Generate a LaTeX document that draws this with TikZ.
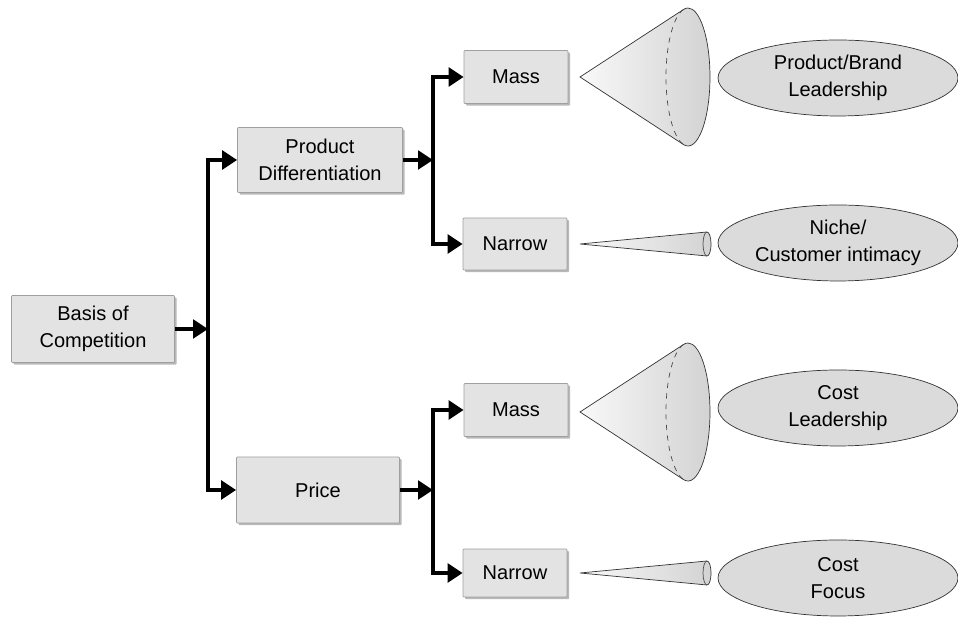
\documentclass[tikz,border=0pt]{standalone}
\usepackage{fontspec}
\setmainfont{Liberation Sans}
\usepackage{tikz}
\usetikzlibrary{arrows.meta,shapes.geometric,shadows}
\colorlet{boxgray}{gray!22}
\colorlet{ovalgray}{gray!28}

\tikzset{
  label font/.style={font=\fontsize{11.4}{15.3}\selectfont, align=center},
  stage/.style={label font, draw=gray!75, fill=boxgray, thin,
    drop shadow={shadow xshift=1.2pt, shadow yshift=-1.2pt, fill=gray!55, opacity=1},
    inner sep=0pt, rounded corners=0.5pt},
  outcome/.style={label font, ellipse, draw=black!80, fill=ovalgray, thin,
    minimum width=4.8cm, minimum height=1.52cm, inner sep=0pt},
  flow/.style={line width=2.8pt, -{Triangle[length=8.5pt,width=10.5pt]}},
  cone/.style={draw=black!80, thin, left color=gray!5, right color=gray!35},
}

\begin{document}
\begin{tikzpicture}[x=0.02cm, y=0.02cm]
  \useasboundingbox (0,0) rectangle (958,618);

  % boxes
  \node[stage, minimum width=3.26cm, minimum height=1.34cm] (basis) at (93,289) {Basis of\\Competition};
  \node[stage, minimum width=3.3cm, minimum height=1.3cm] (prodiff) at (320,458) {Product\\Differentiation};
  \node[stage, minimum width=3.26cm, minimum height=1.32cm] (price) at (318,128) {Price};
  \node[stage, minimum width=2.08cm, minimum height=1.06cm] (massA) at (516,541) {Mass};
  \node[stage, minimum width=2.08cm, minimum height=1.04cm] (narrowA) at (515,374) {Narrow};
  \node[stage, minimum width=2.08cm, minimum height=1.06cm] (massB) at (516,208) {Mass};
  \node[stage, minimum width=2.08cm, minimum height=0.96cm] (narrowB) at (515,45) {Narrow};

  % outcomes
  \node[outcome] (brand) at (838,540) {Product/Brand\\Leadership};
  \node[outcome] (niche) at (838,375) {Niche/\\Customer intimacy};
  \node[outcome] (costlead) at (838,210) {Cost\\Leadership};
  \node[outcome] (costfocus) at (838,40) {Cost\\Focus};

  % branch points
  \coordinate (forkA) at (208,289);
  \coordinate (forkB) at (433,458);
  \coordinate (forkC) at (433,128);

  \draw[flow] (basis) -- (forkA);
  \draw[flow] (forkA) |- (prodiff);
  \draw[flow] (forkA) |- (price);
  \draw[flow] (prodiff) -- (forkB);
  \draw[flow] (forkB) |- (massA);
  \draw[flow] (forkB) |- (narrowA);
  \draw[flow] (price) -- (forkC);
  \draw[flow] (forkC) |- (massB);
  \draw[flow] (forkC) |- (narrowB);

  % wide cones
  \foreach \y in {541,206} {
    \draw[cone] (580,\y) -- (683.5,\y+67.5)
      arc[start angle=101.8, end angle=-101.8, x radius=22, y radius=69] -- cycle;
    \draw[black!70, thin, dashed] (683.5,\y+67.5)
      arc[start angle=101.8, end angle=258.2, x radius=22, y radius=69];
  }
  % narrow cones
  \foreach \y in {374,45} {
    \draw[cone] (580,\y) -- (706.9,\y+12)
      arc[start angle=91.8, end angle=-91.8, x radius=4, y radius=12] -- cycle;
    \draw[black!70, thin] (706.9,\y+12)
      arc[start angle=91.8, end angle=268.2, x radius=4, y radius=12];
  }
\end{tikzpicture}
\end{document}
